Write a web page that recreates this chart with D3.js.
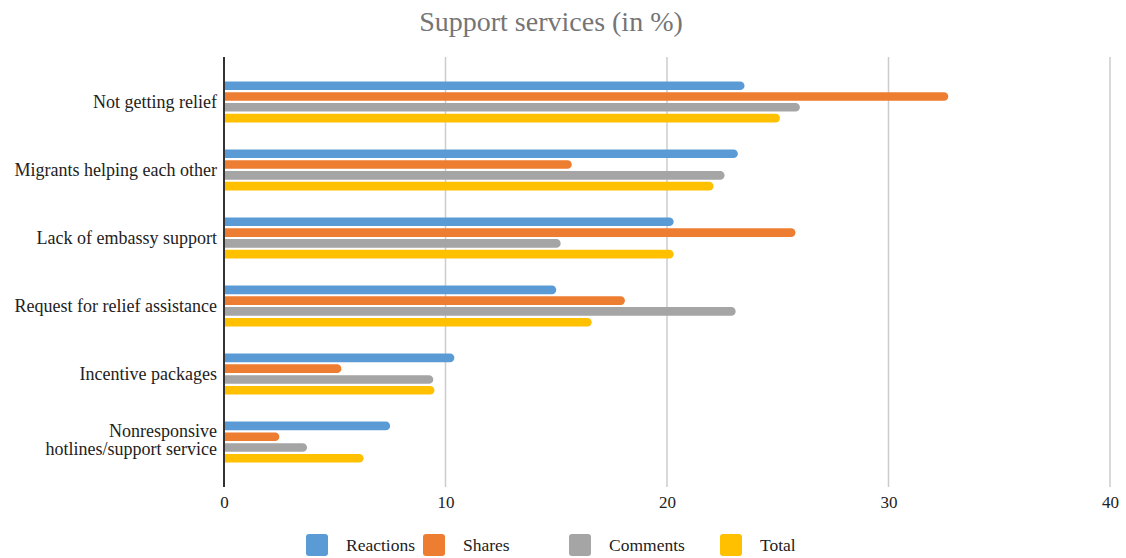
<!DOCTYPE html>
<html><head><meta charset="utf-8">
<script src="https://cdn.jsdelivr.net/npm/d3@7"></script>
<style>body{margin:0;background:#fff}svg{display:block}</style>
</head><body>
<svg id="chart" width="1126" height="558"></svg>
<script>
const categories = ["Not getting relief","Migrants helping each other","Lack of embassy support","Request for relief assistance","Incentive packages","Nonresponsive hotlines/support service"];
const seriesNames = ["Reactions","Shares","Comments","Total"];
const reactions = [23.5, 23.2, 20.3, 15.0, 10.4, 7.5];
const shares    = [32.7, 15.7, 25.8, 18.1, 5.3, 2.5];
const comments  = [26.0, 22.6, 15.2, 23.1, 9.45, 3.75];
const total     = [25.1, 22.1, 20.3, 16.6, 9.5, 6.3];
const xTicks = [0, 10, 20, 30, 40];
const colors = ["#5b9bd5","#ed7d31","#a5a5a5","#ffc000"];
const series = [reactions, shares, comments, total];

(function () {
const svg = d3.select("#chart");
const serif = "'Liberation Serif','Times New Roman',serif";
const mLeft = 224, mRight = 1110, mTop = 57, mBottom = 487;

const x = d3.scaleLinear().domain([0, 40]).range([mLeft, mRight]);
const y = d3.scaleBand().domain(categories).range([mTop, mBottom]).paddingOuter(0.16).paddingInner(0);
const sub = d3.scaleBand().domain(seriesNames).range([0, 41]).paddingInner(0.2);

svg.append("text").attr("x", 551).attr("y", 31).attr("text-anchor","middle")
  .attr("font-family", serif).attr("font-size", 28).attr("fill", "#757575").text("Support services (in %)");

// gridlines
svg.append("g").selectAll("line").data(xTicks.filter(d => d > 0)).join("line")
  .attr("x1", d => x(d)).attr("x2", d => x(d)).attr("y1", mTop).attr("y2", mBottom)
  .attr("stroke", "#cccccc").attr("stroke-width", 1.5);

// x tick labels
const xAxis = svg.append("g").attr("transform", `translate(0,${mBottom})`)
  .call(d3.axisBottom(x).tickValues(xTicks).tickSize(0).tickPadding(9));
xAxis.select(".domain").remove();
xAxis.selectAll("text").attr("font-family", serif).attr("font-size", 17).attr("fill", "#222");

// bars
const groups = svg.append("g").selectAll("g").data(categories).join("g")
  .attr("transform", d => `translate(0,${y(d) + y.bandwidth()/2 - 20.5})`);
groups.each(function(cat, ci) {
  const g = d3.select(this);
  seriesNames.forEach((s, si) => {
    const v = series[si][ci];
    const x0 = x(0), x1 = x(v), y0 = sub(s), h = sub.bandwidth(), r = Math.min(h/2, 4.5);
    const p = d3.path();
    p.moveTo(x0, y0);
    p.lineTo(x1 - r, y0);
    p.arcTo(x1, y0, x1, y0 + r, r);
    p.lineTo(x1, y0 + h - r);
    p.arcTo(x1, y0 + h, x1 - r, y0 + h, r);
    p.lineTo(x0, y0 + h);
    p.closePath();
    g.append("path").attr("d", p.toString()).attr("fill", colors[si]);
  });
});

// y axis line
svg.append("line").attr("x1", mLeft).attr("x2", mLeft).attr("y1", mTop).attr("y2", mBottom)
  .attr("stroke", "#333").attr("stroke-width", 2);

// y labels
const yAxis = svg.append("g").attr("transform", `translate(${mLeft},0)`)
  .call(d3.axisLeft(y).tickSize(0).tickPadding(7));
yAxis.select(".domain").remove();
yAxis.selectAll("text").attr("font-family", serif).attr("font-size", 18).attr("fill", "#222")
  .each(function(d) {
    if (d.startsWith("Nonresponsive")) {
      const t = d3.select(this).text(null);
      t.append("tspan").attr("x", -7).attr("dy", "-0.27em").text("Nonresponsive");
      t.append("tspan").attr("x", -7).attr("dy", "1.0em").text("hotlines/support service");
    }
  });

// legend
const legendX = [306, 423, 569, 720];
const legend = svg.append("g").selectAll("g").data(seriesNames).join("g")
  .attr("transform", (d, i) => `translate(${legendX[i]},534)`);
legend.append("rect").attr("width", 22).attr("height", 22).attr("rx", 3).attr("fill", (d, i) => colors[i]);
legend.append("text").attr("x", 40).attr("y", 17).attr("font-family", serif).attr("font-size", 17.5)
  .attr("fill", "#222").text(d => d);
})();
</script>
</body></html>
